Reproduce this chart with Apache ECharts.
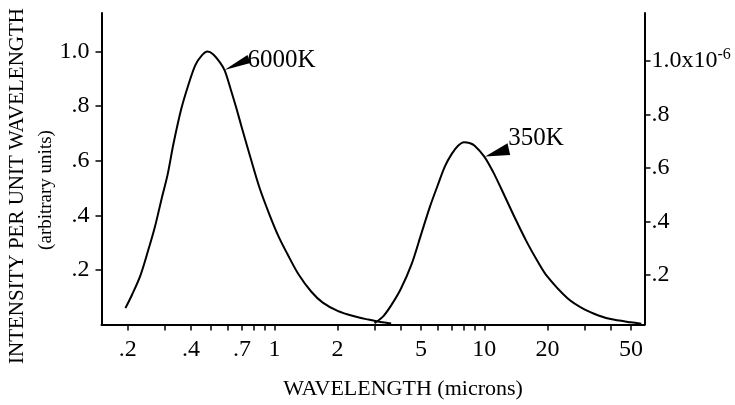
<!DOCTYPE html>
<html><head><meta charset="utf-8">
<script src="https://cdn.jsdelivr.net/npm/echarts@6/dist/echarts.min.js"></script>
<style>html,body{margin:0;padding:0;background:#fff}#c{width:735px;height:405px}</style>
</head><body><div id="c"></div>
<script>
// 6000K curve (wavelength in microns, intensity on left scale)
const wl6000 = [0.195,0.21,0.23,0.25,0.27,0.29,0.31,0.33,0.36,0.39,0.42,0.45,0.48,0.51,0.55,0.58,0.62,0.66,0.70,0.77,0.85,0.95,1.05,1.15,1.3,1.5,1.7,2.0,2.4,2.8,3.2,3.6];
const int6000 = [0.06,0.11,0.18,0.27,0.36,0.46,0.55,0.66,0.79,0.88,0.95,0.985,1.0,0.99,0.96,0.93,0.86,0.79,0.72,0.61,0.50,0.40,0.32,0.26,0.185,0.12,0.08,0.05,0.03,0.018,0.009,0.004];
// 350K curve
const wl350 = [3.0,3.3,3.6,4.0,4.5,5.0,5.5,6.0,6.5,7.0,7.5,8.0,8.5,9.0,10,11,12,14,16,18,20,25,30,35,40,50,56];
const int350 = [0.005,0.03,0.07,0.13,0.22,0.33,0.43,0.51,0.58,0.625,0.655,0.668,0.665,0.655,0.615,0.56,0.50,0.39,0.30,0.23,0.175,0.095,0.055,0.033,0.02,0.008,0.003];
// axes
const xTickValues = [0.2,0.3,0.4,0.5,0.6,0.7,0.8,0.9,1,2,3,4,5,6,7,8,9,10,20,30,40,50];
const xLabelValues = [0.2,0.4,0.7,1,2,5,10,20,50];
const yLabelValues = [0.2,0.4,0.6,0.8,1.0];
const rightLabelValues = [0.2,0.4,0.6,0.8,1.0];
// annotations: label, arrow tip position
const annotations = [
  {name:'6000K', wl:0.578, v:0.932},
  {name:'350K', wl:10.1, v:0.615}
];

const FONT = 'Liberation Serif';
const fmtFrac = v => (v >= 1 ? String(v) : String(v).replace(/^0/, ''));

const arrowSym = [
  {path:'path://M0,15L23,0L26,8Z', size:[26,15], off:[13,-7.5], lab:[-3,-2]},
  {path:'path://M0,13.4L22.3,0L25,11.7Z', size:[25,13.4], off:[12.5,-6.7], lab:[-2,-11]}
];

function mk(i){
  const a = annotations[i], s = arrowSym[i];
  return {
    silent:true,
    data:[{coord:[a.wl,a.v], symbol:s.path, symbolSize:s.size, symbolOffset:s.off, symbolKeepAspect:false,
      itemStyle:{color:'#000'},
      label:{show:true, position:'right', distance:0, offset:s.lab, formatter:a.name,
        color:'#000', fontFamily:FONT, fontSize:25}}]
  };
}

const chart = echarts.init(document.getElementById('c'), null, {renderer:'canvas'});
chart.setOption({
  animation:false,
  backgroundColor:'#fff',
  grid:{left:101.5, right:90.5, top:13, bottom:80.5, containLabel:false},
  xAxis:{
    type:'log', logBase:10, min:0.15, max:58,
    axisLine:{show:true, lineStyle:{color:'#000', width:2}},
    axisTick:{show:true, inside:false, length:6, lineStyle:{color:'#000', width:1.5}, customValues:xTickValues},
    minorTick:{show:false},
    axisLabel:{color:'#000', fontFamily:FONT, fontSize:24, margin:13, customValues:xLabelValues, formatter:fmtFrac},
    splitLine:{show:false}
  },
  yAxis:[{
    type:'value', min:0, max:1.141, position:'left',
    axisLine:{show:true, lineStyle:{color:'#000', width:2}},
    axisTick:{show:true, length:6, lineStyle:{color:'#000', width:1.5}, customValues:yLabelValues},
    axisLabel:{color:'#000', fontFamily:FONT, fontSize:24, margin:12, customValues:yLabelValues,
      formatter:v => (v === 1 ? '1.0' : fmtFrac(v))},
    splitLine:{show:false}
  },{
    type:'value', min:0.01495, max:1.1795, position:'right',
    axisLine:{show:true, lineStyle:{color:'#000', width:2}},
    axisTick:{show:true, length:6, lineStyle:{color:'#000', width:1.5}, customValues:rightLabelValues},
    axisLabel:{color:'#000', fontFamily:FONT, fontSize:24, margin:7, customValues:rightLabelValues,
      formatter:v => (v === 1 ? '{m|1.0x10}{s|-6}' : fmtFrac(v)),
      rich:{m:{fontFamily:FONT, fontSize:24, color:'#000'}, s:{fontFamily:FONT, fontSize:16, color:'#000', verticalAlign:'top', padding:[0,0,12,0]}}},
    splitLine:{show:false}
  }],
  graphic:[
    {type:'text', x:17, y:186, rotation:Math.PI/2,
      style:{text:'INTENSITY PER UNIT WAVELENGTH', fill:'#000', font:'21px "Liberation Serif"', align:'center', verticalAlign:'middle'}},
    {type:'text', x:46, y:190, rotation:Math.PI/2,
      style:{text:'(arbitrary units)', fill:'#000', font:'19px "Liberation Serif"', align:'center', verticalAlign:'middle'}},
    {type:'text', x:403, y:389,
      style:{text:'WAVELENGTH (microns)', fill:'#000', font:'22px "Liberation Serif"', align:'center', verticalAlign:'middle'}}
  ],
  series:[
    {type:'line', name:'6000K', data:wl6000.map((w,i)=>[w,int6000[i]]), showSymbol:false, symbol:'none', smooth:0.3, clip:false,
      lineStyle:{color:'#000', width:2}, markPoint:mk(0)},
    {type:'line', name:'350K', data:wl350.map((w,i)=>[w,int350[i]]), showSymbol:false, symbol:'none', smooth:0.3, clip:false,
      lineStyle:{color:'#000', width:2}, markPoint:mk(1),
      markLine:{silent:true, symbol:'none', label:{show:false}, lineStyle:{color:'#000', width:2, type:'solid'},
        data:[[{coord:[3,-0.025]},{coord:[3,0.02]}]]}}
  ]
});
</script></body></html>
